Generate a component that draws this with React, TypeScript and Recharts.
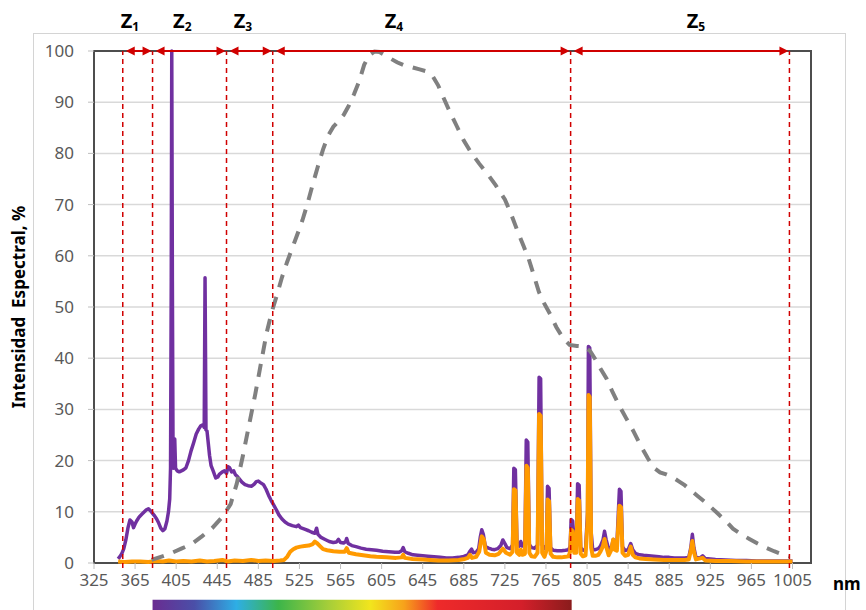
import React from "react";
import {
  CartesianGrid,
  Line,
  LineChart,
  ReferenceArea,
  ReferenceDot,
  ReferenceLine,
  XAxis,
  YAxis,
} from "recharts";

// wavelength (nm) and relative spectral intensity (%)
const violetLamp: [number, number][] = [
  [348.5, 0.8], [350, 1.2], [352, 1.8], [354, 2.8], [356, 4.5], [358, 6.8], [360, 8.4], [362, 8],
  [363.5, 6.9], [365, 7.6], [366.5, 8.2], [369, 9], [372, 9.6], [374, 10], [376, 10.4], [378, 10.6],
  [380, 10.2], [382, 9.7], [384, 9.2], [386, 8.6], [388, 7.8], [390, 6.8], [392, 6.3], [394, 6.7],
  [396, 8.2], [397.5, 10], [398.7, 12.5], [399.5, 18.5], [400.2, 55], [400.7, 100], [401.3, 55],
  [402, 18.5], [403, 22], [403.6, 24.2], [404.4, 18.5], [406, 18], [408, 17.8], [410, 18], [412, 18.2],
  [414.5, 18.6], [417, 20], [419.5, 21.9], [422, 23.5], [424.5, 25.2], [427, 26.2], [429, 26.8],
  [431, 27], [432.3, 26.5], [432.8, 45], [433.1, 55.7], [433.6, 40], [434, 26], [435, 25.8],
  [437.5, 21], [439, 19], [441, 18], [443.5, 16.6], [445.5, 16.8], [447, 17.3], [450, 17.8], [452, 18],
  [454, 17.5], [455.5, 18.8], [457, 18.6], [459, 17.8], [461, 18], [462.5, 17.3], [465, 16.8],
  [467, 16.3], [469, 15.8], [472, 15.3], [475, 15.1], [478.5, 15], [481, 15.4], [483, 15.9], [485, 16],
  [487, 15.7], [490, 15.3], [492.5, 14.4], [495, 13.2], [497.5, 12.2], [500, 11.3], [502.5, 10.4],
  [505, 9.4], [508, 8.6], [511, 8], [514, 7.6], [518, 7.3], [522, 7.1], [524, 7.4], [526, 6.9],
  [530, 6.6], [534, 6.3], [537, 6], [540, 5.8], [541.7, 6.8], [543, 5.6], [546, 5], [550, 4.6],
  [554, 4.2], [558, 4], [561, 4.1], [563, 4.6], [565, 4], [568, 3.9], [570, 4.2], [571, 4.8],
  [572.5, 3.8], [576, 3.4], [580, 3.2], [585, 2.9], [590, 2.7], [595, 2.6], [600, 2.5], [606, 2.3],
  [612, 2.2], [618, 2.1], [622, 2.1], [624.5, 2.4], [626, 3], [627.5, 2.2], [631, 1.9], [635.5, 1.6],
  [640, 1.5], [645, 1.4], [650, 1.3], [656, 1.2], [662, 1.1], [668, 1], [674, 1], [680, 1.1],
  [685, 1.3], [689, 1.6], [691, 2.3], [692.6, 2.7], [694, 2], [697, 2.1], [699.5, 2.8], [701, 5],
  [702.5, 6.5], [704, 5.6], [706, 3.2], [709, 2.9], [712, 2.7], [715, 2.6], [718, 2.8], [721, 3.4],
  [723, 4.5], [725, 3.8], [727, 3], [730, 2.8], [732.5, 3.5], [733.7, 18.5], [735.2, 18.2],
  [736.8, 3.6], [739, 3.3], [740.5, 4.2], [742, 3.3], [744.5, 3.4], [745.8, 24], [747.3, 23.6],
  [748.8, 3.6], [751, 3], [754, 2.9], [756.8, 3.5], [758.3, 36.3], [759.8, 36], [761.3, 3.5],
  [763.5, 2.8], [765.5, 3.5], [766.5, 15], [768, 14.6], [769.5, 3], [772, 2.5], [776, 2.4], [780, 2.4],
  [784, 2.5], [787, 2.6], [788.5, 3.2], [789.5, 8.5], [791, 8.2], [792.5, 3.2], [794.5, 3.3],
  [795.8, 15.5], [797.3, 15.2], [798.8, 3], [801, 2.5], [803.5, 2.6], [805.5, 10], [806.3, 42.3],
  [807.6, 42], [809, 6], [810.5, 2.6], [813, 2.6], [816, 2.8], [818, 3.3], [820.5, 4.5], [822, 6.2],
  [823.5, 4.6], [826, 2.7], [829, 3.2], [830.5, 4.6], [832, 3.6], [834, 3.5], [836.5, 14.4], [838, 14],
  [839.5, 3.2], [842, 2.4], [845, 2.6], [847.5, 3.8], [849.5, 2.6], [852, 1.9], [856, 1.6], [860, 1.5],
  [865, 1.4], [870, 1.3], [875, 1.2], [880, 1.1], [885, 1.1], [890, 1], [895, 1], [900, 1], [904, 1.1],
  [906, 3], [907.5, 5.6], [909, 3], [911, 1.1], [915, 1], [917.5, 1.4], [920, 0.9], [925, 0.8],
  [930, 0.7], [940, 0.6], [950, 0.5], [960, 0.5], [970, 0.4], [980, 0.4], [990, 0.4], [1000, 0.4],
  [1005, 0.4],
];

const orangeLamp: [number, number][] = [
  [348.5, 0.3], [355, 0.2], [362, 0.3], [370, 0.3], [378, 0.2], [385, 0.4], [392, 0.3], [398, 0.5],
  [405, 0.3], [412, 0.4], [420, 0.3], [428, 0.5], [435, 0.3], [442, 0.4], [450, 0.6], [455, 0.3],
  [462, 0.5], [470, 0.4], [478, 0.6], [485, 0.4], [492, 0.5], [500, 0.4], [506, 0.5], [510, 0.6],
  [513, 1.2], [516, 2.2], [519, 2.7], [522, 3], [526, 3.2], [530, 3.3], [534, 3.4], [538, 3.7],
  [540, 4.2], [542, 3.9], [545, 3.3], [548, 2.7], [552, 2.5], [558, 2.3], [564, 2.2], [569, 2.2],
  [571, 2.9], [573, 2], [580, 1.7], [587, 1.5], [594, 1.3], [600, 1.2], [610, 1.1], [619, 1],
  [624.5, 1.1], [626, 1.6], [627.5, 1], [635, 0.8], [645, 0.7], [652, 0.6], [660, 0.5], [670, 0.5],
  [680, 0.6], [686, 0.8], [689, 1], [691, 1.6], [693, 1], [697, 1.2], [700, 2.2], [702.5, 5.2],
  [704.5, 4.6], [706.5, 2], [710, 1.6], [715, 1.5], [719, 1.8], [723, 2.8], [726, 2], [730, 1.6],
  [732.5, 2.2], [733.8, 14.4], [735.3, 14.2], [736.8, 2], [739, 1.6], [740.5, 2.6], [742, 1.6],
  [744.5, 1.8], [746, 19], [747.3, 18.6], [748.8, 2], [751, 1.3], [754, 1.2], [756.8, 2], [758.3, 29.1],
  [759.8, 28.7], [761.3, 2], [763.5, 1.2], [765.5, 2.4], [766.6, 12.4], [768, 12.1], [769.5, 1.8],
  [772, 1.2], [776, 1.1], [780, 1.1], [784, 1.2], [787, 1.3], [788.5, 2.2], [789.5, 6.5], [791, 6.2],
  [792.5, 2], [794.5, 2], [795.9, 12.5], [797.3, 12.2], [798.8, 1.8], [801, 1.3], [803.5, 1.5],
  [805.5, 8], [806.4, 32.8], [807.6, 32.4], [809, 3], [810.5, 1.4], [813, 1.4], [816, 1.6], [818, 2.2],
  [820.5, 3.3], [822, 4.7], [823.5, 3.3], [826, 1.5], [828.5, 2.5], [830.5, 4.6], [832, 2.6],
  [834, 2.4], [836.5, 11.2], [838, 10.9], [839.5, 2], [842, 1.4], [845, 1.6], [847.5, 3.2],
  [849.5, 1.6], [852, 1.1], [856, 0.9], [862, 0.8], [870, 0.7], [880, 0.6], [890, 0.6], [900, 0.6],
  [904, 0.7], [906, 2.4], [907.5, 4.3], [909, 2.2], [911, 0.7], [917.5, 1], [920, 0.5], [930, 0.4],
  [945, 0.4], [960, 0.3], [980, 0.3], [1005, 0.3],
];

const sensitivity: [number, number][] = [
  [381, 0.6], [390, 1.2], [400, 1.9], [410, 2.8], [420, 3.7], [430, 5.2], [440, 6.8], [450, 9],
  [458, 11.5], [464, 15.5], [470, 21], [476, 27], [482, 33], [488, 39.5], [493, 44.9], [498, 49],
  [503, 52.3], [508, 55.8], [513, 58.8], [518, 61.5], [523, 64.2], [528, 67], [533, 70.3], [538, 74],
  [543, 77.5], [548, 80.8], [553, 83.5], [558, 85.2], [563, 86.3], [568, 87.5], [573, 89.3],
  [578, 91.5], [583, 94], [588, 97.3], [593, 99.2], [598, 99.9], [603, 99.8], [608, 99.2], [613, 98.6],
  [620, 97.8], [628, 97.1], [635, 96.8], [642, 96.4], [649, 96], [655, 95], [660, 93.3], [665, 91],
  [671, 88.3], [678, 85.4], [685, 82.5], [692, 80.2], [700, 78], [708, 76], [716, 73.8], [725, 71],
  [731, 68.2], [737, 65], [743, 62], [748, 59.5], [753, 56.3], [758, 53], [763, 50.8], [769, 48.6],
  [775, 46.1], [782, 43.8], [788, 42.6], [795, 42.4], [802, 42.3], [808, 41.4], [813, 39.8], [818, 38],
  [824, 36], [830, 33.3], [837, 30.5], [843, 28.3], [850, 25.8], [857, 23], [864, 20.5], [870, 18.6],
  [876, 17.7], [882, 17.3], [888, 16.8], [894, 16], [900, 15.2], [906, 14.2], [912, 13.2], [918, 12.2],
  [925, 11], [932, 9.7], [940, 8.2], [947, 6.7], [955, 5.6], [963, 4.7], [971, 3.8], [979, 3],
  [987, 2.3], [995, 1.7], [1002, 1.3],
];

const zoneBounds = [353, 382, 454, 499, 789, 1002];
const zoneNames = ["1", "2", "3", "4", "5"];
const zoneLabelAt = [360, 411, 470, 617, 911];
const xTicks = [325, 365, 405, 445, 485, 525, 565, 605, 645, 685, 725, 765, 805, 845, 885, 925, 965, 1005];
const yTicks = [0, 10, 20, 30, 40, 50, 60, 70, 80, 90, 100];
const visibleRange = [382, 790];

const toRows = (pts: [number, number][]) => pts.map(([nm, v]) => ({ nm, v }));

const RED = "#d00000";
const tickStyle = { fill: "#595959", fontSize: 17, fontFamily: "Noto Sans" };

const ZoneArrow = (props: any) => {
  const { x1, y1, x2 } = props;
  const l = x1 + 3;
  const r = x2 - 1;
  return (
    <g>
      <line x1={l + 6} y1={y1} x2={r - 6} y2={y1} stroke={RED} strokeWidth={2} />
      <polygon points={`${l},${y1} ${l + 9},${y1 - 4.5} ${l + 9},${y1 + 4.5}`} fill={RED} />
      <polygon points={`${r},${y1} ${r - 9},${y1 - 4.5} ${r - 9},${y1 + 4.5}`} fill={RED} />
    </g>
  );
};

const zoneLabel = (name: string) => (props: any) => (
  <text
    x={props.cx}
    y={props.cy - 23}
    textAnchor="middle"
    fontFamily="Noto Sans"
    fontWeight="bold"
    fontSize={20}
    fill="#000"
  >
    Z
    <tspan fontSize={12} dy={3}>
      {name}
    </tspan>
  </text>
);

const YTitle = (props: any) => {
  const vb = props.viewBox || { x: 0, y: 51, width: 94, height: 512 };
  const cx = vb.x + 18;
  const cy = vb.y + vb.height / 2;
  return (
    <text
      x={cx}
      y={cy}
      transform={`rotate(-90 ${cx} ${cy})`}
      textAnchor="middle"
      dominantBaseline="central"
      fontFamily="Noto Sans"
      fontWeight="bold"
      fontSize={17}
      fill="#000"
      style={{ whiteSpace: "pre" }}
    >
      {"Intensidad  Espectral, %"}
    </text>
  );
};

const NmTitle = (props: any) => {
  const vb = props.viewBox || { x: 94, y: 563, width: 717, height: 30 };
  return (
    <text
      x={vb.x + vb.width + 22}
      y={vb.y + 27}
      fontFamily="Noto Sans"
      fontWeight="bold"
      fontSize={17}
      fill="#000"
    >
      nm
    </text>
  );
};

export default function App() {
  return (
    <div
      style={{
        position: "absolute",
        left: 0,
        top: 0,
        width: 866,
        height: 610,
        background: "#fff",
        overflow: "hidden",
      }}
    >
      <div
        style={{
          position: "absolute",
          left: 33,
          top: 33,
          width: 811,
          height: 600,
          border: "1.5px solid #d4d4d4",
        }}
      />
      <div style={{ position: "absolute", left: 0, top: 0 }}>
        <LineChart width={866} height={610} margin={{ top: 51, right: 55, bottom: 17, left: 0 }}>
          <defs>
            <linearGradient id="visSpec" x1="0" y1="0" x2="1" y2="0">
              <stop offset="0%" stopColor="#6a2c91" />
              <stop offset="10%" stopColor="#4a4fa8" />
              <stop offset="20%" stopColor="#2eaee5" />
              <stop offset="30%" stopColor="#3cb54a" />
              <stop offset="42%" stopColor="#a6ce39" />
              <stop offset="52%" stopColor="#f2e51d" />
              <stop offset="60%" stopColor="#f7a21b" />
              <stop offset="68%" stopColor="#ee2a2a" />
              <stop offset="88%" stopColor="#d41f2a" />
              <stop offset="100%" stopColor="#8a1c1c" />
            </linearGradient>
          </defs>
          <CartesianGrid vertical={false} stroke="#d9d9d9" strokeWidth={1.5} />
          <XAxis
            type="number"
            dataKey="nm"
            domain={[325, 1023]}
            ticks={xTicks}
            interval={0}
            allowDataOverflow
            height={30}
            tickSize={6}
            tickMargin={5}
            axisLine={false}
            tickLine={{ stroke: "#bfbfbf" }}
            tick={tickStyle}
            label={{ content: NmTitle }}
          />
          <YAxis
            type="number"
            domain={[0, 100]}
            ticks={yTicks}
            interval={0}
            width={94}
            tickSize={6}
            tickMargin={14}
            axisLine={false}
            tickLine={{ stroke: "#bfbfbf" }}
            tick={tickStyle}
            label={{ content: YTitle }}
          />
          <ReferenceArea
            x1={325}
            x2={1023}
            y1={0}
            y2={100}
            fill="none"
            fillOpacity={0}
            stroke="#4d4d4d"
            strokeWidth={2}
            ifOverflow="visible"
          />
          <ReferenceArea
            x1={visibleRange[0]}
            x2={visibleRange[1]}
            y1={-9.6}
            y2={-7.2}
            fill="url(#visSpec)"
            fillOpacity={1}
            stroke="none"
            ifOverflow="visible"
          />
          <Line
            data={toRows(violetLamp)}
            dataKey="v"
            type="linear"
            stroke="#7030a0"
            strokeWidth={3.5}
            strokeLinejoin="round"
            dot={false}
            activeDot={false}
            isAnimationActive={false}
          />
          <Line
            data={toRows(orangeLamp)}
            dataKey="v"
            type="linear"
            stroke="#ff9a00"
            strokeWidth={4}
            strokeLinejoin="round"
            dot={false}
            activeDot={false}
            isAnimationActive={false}
          />
          <Line
            data={toRows(sensitivity)}
            dataKey="v"
            type="linear"
            stroke="#808080"
            strokeWidth={4}
            strokeDasharray="13 10"
            dot={false}
            activeDot={false}
            isAnimationActive={false}
          />
          {zoneBounds.map((b) => (
            <ReferenceLine
              key={`b${b}`}
              segment={[
                { x: b, y: -1 },
                { x: b, y: 100 },
              ]}
              stroke={RED}
              strokeWidth={1.5}
              strokeDasharray="5 4"
              ifOverflow="visible"
            />
          ))}
          {zoneNames.map((n, i) => (
            <ReferenceLine
              key={`a${n}`}
              segment={[
                { x: zoneBounds[i], y: 100 },
                { x: zoneBounds[i + 1], y: 100 },
              ]}
              shape={ZoneArrow}
              ifOverflow="visible"
            />
          ))}
          {zoneNames.map((n, i) => (
            <ReferenceDot
              key={`z${n}`}
              x={zoneLabelAt[i]}
              y={100}
              r={0}
              ifOverflow="visible"
              shape={zoneLabel(n)}
            />
          ))}
        </LineChart>
      </div>
    </div>
  );
}
